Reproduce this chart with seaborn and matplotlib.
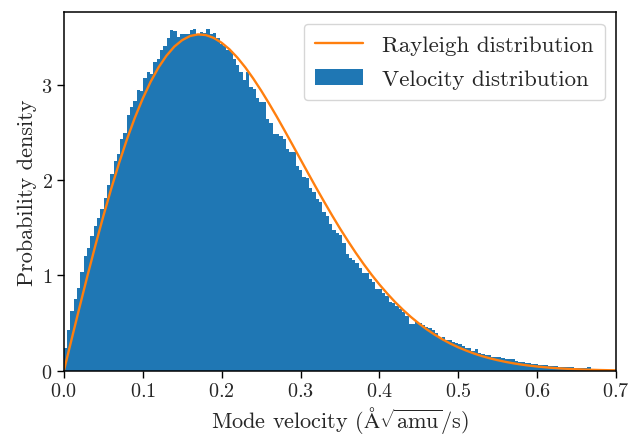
import numpy as np
import pandas as pd
import matplotlib
matplotlib.use("Agg")
import matplotlib.pyplot as plt
import seaborn as sns

# Histogram of mode velocities (density per bin)
bin_width = 0.0042
hist_density = [
    0.24, 0.43, 0.63, 0.75, 0.87, 1.04, 1.20, 1.29, 1.41, 1.52,
    1.60, 1.70, 1.81, 1.95, 2.06, 2.20, 2.27, 2.43, 2.49, 2.68,
    2.76, 2.83, 2.94, 2.93, 3.07, 3.13, 3.11, 3.24, 3.27, 3.36,
    3.40, 3.49, 3.57, 3.56, 3.50, 3.53, 3.53, 3.53, 3.57, 3.58,
    3.53, 3.55, 3.54, 3.58, 3.53, 3.54, 3.49, 3.43, 3.40, 3.36,
    3.35, 3.27, 3.21, 3.13, 3.05, 3.13, 2.97, 2.95, 2.86, 2.82,
    2.82, 2.64, 2.60, 2.48, 2.48, 2.46, 2.43, 2.33, 2.29, 2.29,
    2.15, 2.10, 2.03, 2.02, 1.92, 1.87, 1.80, 1.77, 1.66, 1.62,
    1.54, 1.48, 1.44, 1.42, 1.34, 1.23, 1.18, 1.16, 1.135, 1.08,
    1.03, 1.03, 0.96, 0.93, 0.86, 0.86, 0.82, 0.79, 0.72, 0.71,
    0.68, 0.65, 0.62, 0.58, 0.49, 0.49, 0.51, 0.50, 0.48, 0.46,
    0.45, 0.43, 0.40, 0.35, 0.36, 0.32, 0.32, 0.30, 0.29, 0.28,
    0.26, 0.245, 0.24, 0.21, 0.225, 0.185, 0.175, 0.17, 0.17, 0.15,
    0.15, 0.15, 0.135, 0.12, 0.12, 0.12, 0.10, 0.095, 0.09, 0.085,
    0.08, 0.075, 0.07, 0.065, 0.06, 0.062, 0.055, 0.05, 0.05, 0.045,
    0.045, 0.04, 0.04, 0.04, 0.035, 0.035, 0.03, 0.03, 0.038, 0.02,
    0.025, 0.02, 0.015, 0.015, 0.012, 0.01, 0.008,
]

# Rayleigh curve sampled every 0.01
curve_x = [round(0.01 * i, 2) for i in range(71)]
curve_y = [
    0.0, 0.337, 0.671, 0.999, 1.316, 1.620, 1.908, 2.178, 2.427, 2.653,
    2.854, 3.030, 3.180, 3.302, 3.398, 3.466, 3.509, 3.526, 3.519, 3.489,
    3.438, 3.369, 3.282, 3.180, 3.064, 2.938, 2.803, 2.662, 2.515, 2.366,
    2.215, 2.065, 1.916, 1.771, 1.629, 1.492, 1.362, 1.237, 1.119, 1.008,
    0.905, 0.809, 0.720, 0.639, 0.564, 0.497, 0.435, 0.380, 0.330, 0.286,
    0.247, 0.213, 0.182, 0.155, 0.132, 0.112, 0.0945, 0.0794, 0.0666, 0.0555,
    0.0462, 0.0383, 0.0316, 0.0260, 0.0213, 0.0174, 0.0141, 0.0114, 0.0092, 0.0074,
    0.0059,
]

sns.set_style("ticks")
plt.rcParams["font.family"] = "serif"
plt.rcParams["font.serif"] = ["cmr10"]
plt.rcParams["mathtext.fontset"] = "cm"
plt.rcParams["axes.formatter.use_mathtext"] = True
plt.rcParams["axes.unicode_minus"] = False

n_bins = len(hist_density)
edges = np.arange(n_bins + 1) * bin_width
hist_df = pd.DataFrame({
    "velocity": (edges[:-1] + edges[1:]) / 2,
    "density": hist_density,
})
curve_df = pd.DataFrame({"velocity": curve_x, "density": curve_y})

fig, ax = plt.subplots(figsize=(6.32, 4.35), dpi=100)
fig.subplots_adjust(left=0.101, right=0.975, top=0.970, bottom=0.145)

sns.histplot(data=hist_df, x="velocity", weights="density",
             binwidth=bin_width, binrange=(0, edges[-1]),
             stat="count", color="#1f77b4", alpha=1, linewidth=0, ax=ax)
sns.lineplot(data=curve_df, x="velocity", y="density",
             color="#ff7f0e", linewidth=1.7, ax=ax)

ax.set_xlim(0, 0.7)
ax.set_ylim(0, 3.76)
ax.set_yticks([0, 1, 2, 3])
ax.set_xticks(np.arange(0, 0.71, 0.1))
ax.tick_params(labelsize=14.5, length=5, width=1, color="black", pad=3)
for s in ax.spines.values():
    s.set_color("black")
    s.set_linewidth(1.1)

ax.set_xlabel(r"Mode velocity ($\mathrm{\AA}\sqrt{\mathrm{amu}}$/s)", fontsize=16, labelpad=3)
ax.set_ylabel("Probability density", fontsize=16, labelpad=3)

ax.legend(handles=[ax.lines[0], ax.patches[0]],
          labels=["Rayleigh distribution", "Velocity distribution"],
          loc="upper right", fontsize=16.5, frameon=True,
          borderpad=0.5, labelspacing=0.6, handlelength=2.1)

fig.savefig("out.png", dpi=100)
